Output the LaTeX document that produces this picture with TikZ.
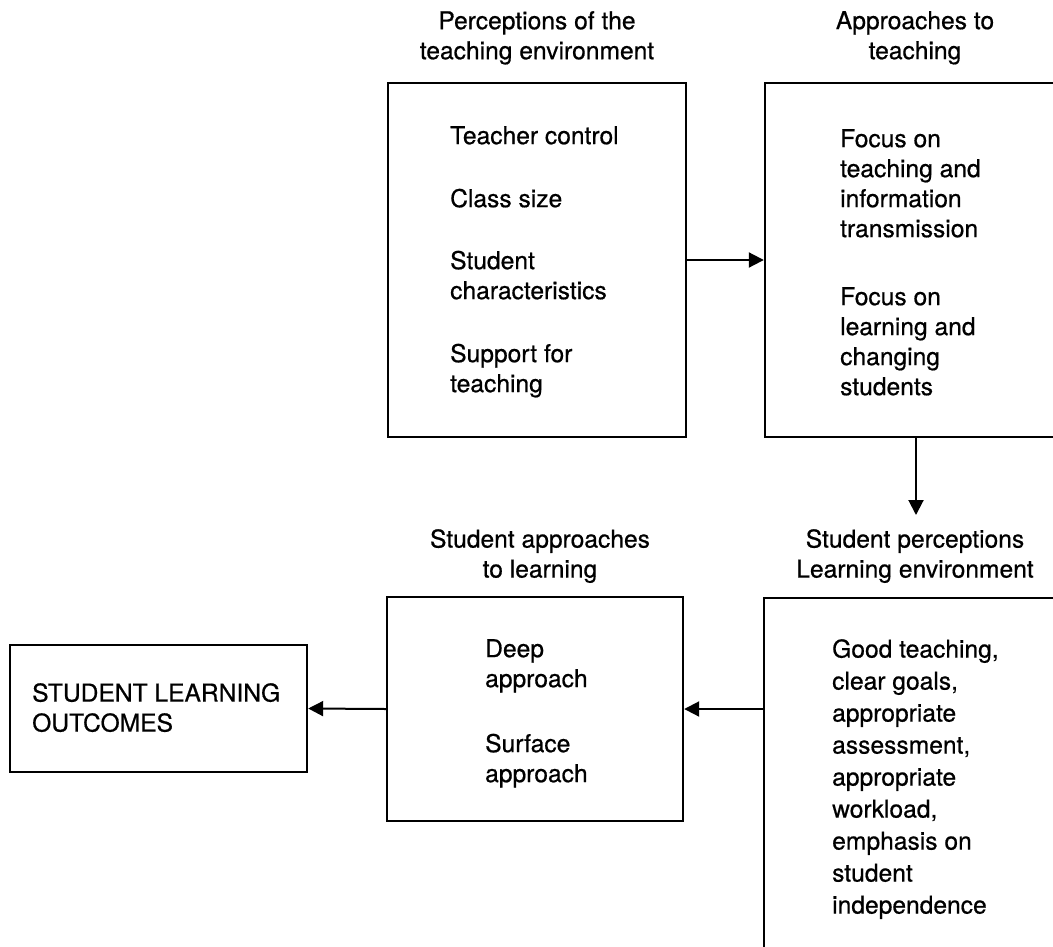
\documentclass[tikz,border=0pt]{standalone}
\usepackage{fontspec}
\setmainfont{TeX Gyre Heros}[RawFeature={embolden=0.6}]
\usetikzlibrary{arrows.meta}
\begin{document}
\begin{tikzpicture}[x=1pt,y=-1pt,
  box/.style={draw, line width=2.4pt, inner sep=0},
  txt/.style={font=\fontsize{24.6}{30}\selectfont, align=left, inner sep=0, anchor=north west},
  ttl/.style={font=\fontsize{24.6}{30}\selectfont, align=center, inner sep=0, anchor=north},
  arr/.style={line width=2pt, -{Triangle[length=15pt,width=15pt]}}]
\path[use as bounding box] (0,0) rectangle (1053,946);
\clip (0,0) rectangle (1053,946);
% boxes
\node[box, minimum width=298pt, minimum height=354pt] (b1) at (537,260) {};
\node[box, minimum width=302pt, minimum height=354pt] (b2) at (916,260) {};
\node[box, minimum width=303pt, minimum height=380pt] (b3) at (915.5,788) {};
\node[box, minimum width=296pt, minimum height=224pt] (b4) at (535,709) {};
\node[box, minimum width=297pt, minimum height=127pt] (b5) at (158.5,708.5) {};
% titles
\node[ttl] (t1) at (537,11) {Perceptions of the\\teaching environment};
\node[ttl] (t2) at (915,11) {Approaches to\\teaching};
\node[ttl, inner ysep=14pt] (t3) at (915,515) {Student perceptions\\Learning environment};
\node[ttl] (t4) at (540,529) {Student approaches\\to learning};
% contents
\node[txt] (x1) at (450,126) {Teacher control\\[33pt]Class size\\[32pt]Student\\characteristics\\[33pt]Support for\\teaching};
\node[txt] (x2) at (840,129) {Focus on\\teaching and\\information\\transmission\\[38pt]Focus on\\learning and\\changing\\students};
\node[txt, font=\fontsize{24.6}{32}\selectfont] (x3) at (832,639) {Good teaching,\\clear goals,\\appropriate\\assessment,\\appropriate\\workload,\\emphasis on\\student\\independence};
\node[txt] (x4) at (485,639) {Deep\\approach\\[35pt]Surface\\approach};
\node[txt] (x5) at (32,683) {STUDENT LEARNING\\OUTCOMES};
% connectors
\draw[arr] (b1.east) -- (b2.west);
\draw[arr] (b2.south) -- (b2.south |- t3.north);
\draw[arr] (b3.west |- b4.east) -- (b4.east);
\draw[arr] (b4.west) -- (b5.east);
\end{tikzpicture}
\end{document}
